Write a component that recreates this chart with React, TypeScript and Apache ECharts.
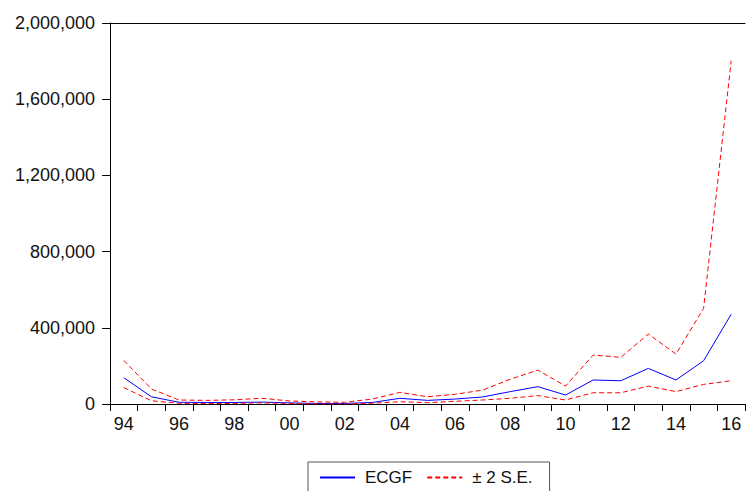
import React, { useEffect, useRef } from "react";
import * as echarts from "echarts";

const years = ["94","95","96","97","98","99","00","01","02","03","04","05","06","07","08","09","10","11","12","13","14","15","16"];
const ecgf = [138000, 38000, 9000, 8000, 8000, 10000, 6000, 3000, 3000, 8000, 30000, 19000, 26000, 37000, 65000, 91000, 47000, 126000, 122000, 187000, 126000, 227000, 471000];
const upperBand = [229000, 79000, 21000, 19000, 22000, 30000, 16000, 11000, 9000, 26000, 61000, 38000, 51000, 73000, 130000, 178000, 94000, 257000, 245000, 367000, 262000, 502000, 1802000];
const lowerBand = [86000, 17000, 4000, 2000, 3000, 6000, 3000, 0, -1000, 4000, 12000, 7000, 14000, 21000, 30000, 44000, 21000, 59000, 59000, 94000, 65000, 103000, 122000];
const seName = "± 2 S.E.";
const mainName = "ECGF";

const FONT = "Liberation Sans, Arial, sans-serif";

export default function App() {
  const ref = useRef<HTMLDivElement>(null);
  useEffect(() => {
    if (!ref.current) return;
    const chart = echarts.init(ref.current, undefined, { renderer: "svg" });
    const dashed = { color: "#ff0000", width: 1, type: [5, 3] as any };
    chart.setOption({
      animation: false,
      backgroundColor: "#ffffff",
      textStyle: { fontFamily: FONT },
      grid: { left: 110, right: 1, top: 23, bottom: 87, containLabel: false },
      legend: {
        left: 308,
        top: 462,
        padding: [7, 17, 7, 11],
        itemWidth: 35,
        itemHeight: 14,
        itemGap: 14,
        borderColor: "#555555",
        borderWidth: 1,
        itemStyle: { opacity: 0 },
        data: [mainName, seName],
        textStyle: { fontFamily: FONT, fontSize: 17, color: "#111", padding: [0, 0, 0, 5] },
      },
      xAxis: [
        {
          type: "category",
          data: years,
          boundaryGap: true,
          axisLine: { lineStyle: { color: "#000", width: 1 } },
          axisTick: { show: true, interval: 0, length: 7, inside: false, lineStyle: { color: "#000" } },
          axisLabel: { interval: 1, margin: 11, fontFamily: FONT, fontSize: 18, color: "#111" },
          splitLine: { show: false },
        },
        {
          type: "category",
          data: years,
          position: "top",
          axisLine: { show: true, lineStyle: { color: "#000", width: 1 } },
          axisTick: { show: false },
          axisLabel: { show: false },
          splitLine: { show: false },
        },
      ],
      yAxis: {
        type: "value",
        min: 0,
        max: 2000000,
        interval: 400000,
        axisLine: { show: true, lineStyle: { color: "#000", width: 1 } },
        axisTick: { show: true, length: 8, inside: false, lineStyle: { color: "#000" } },
        axisLabel: {
          margin: 15,
          fontFamily: FONT,
          fontSize: 18,
          color: "#111",
          formatter: (v: number) => v.toLocaleString("en-US"),
        },
        splitLine: { show: false },
      },
      series: [
        {
          name: mainName,
          type: "line",
          data: ecgf,
          symbol: "none",
          lineStyle: { color: "#0000ff", width: 1 },
          itemStyle: { color: "#0000ff" },
        },
        {
          name: seName,
          type: "line",
          data: upperBand,
          symbol: "none",
          lineStyle: dashed,
          itemStyle: { color: "#ff0000" },
        },
        {
          name: seName,
          type: "line",
          data: lowerBand,
          symbol: "none",
          lineStyle: dashed,
          itemStyle: { color: "#ff0000" },
        },
      ],
    });
    return () => chart.dispose();
  }, []);
  return <div ref={ref} style={{ position: "fixed", left: 0, top: 0, width: 746, height: 491 }} />;
}
